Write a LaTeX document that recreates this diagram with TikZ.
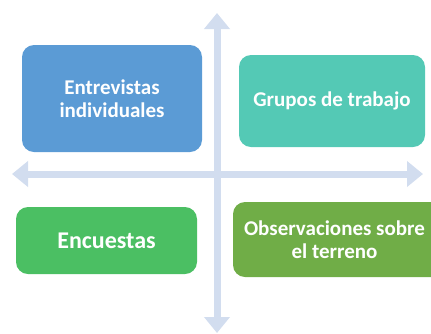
\documentclass[tikz,border=0pt]{standalone}
\usepackage{fontspec}
\setmainfont{Carlito}
\usetikzlibrary{arrows.meta}
\definecolor{cblue}{HTML}{5B9BD5}
\definecolor{cteal}{HTML}{54C9B5}
\definecolor{cgreen}{HTML}{4BBF63}
\definecolor{colive}{HTML}{70AD47}
\definecolor{caxis}{HTML}{D2DDEF}
\tikzset{
  box/.style={inner sep=0pt, text=white, align=center,
    font=\fontsize{21}{22.7}\selectfont\bfseries},
  bigbox/.style={box, font=\fontsize{24}{26}\selectfont\bfseries},
  axis/.style={draw=caxis, line width=7pt,
    -{Triangle[width=25pt,length=16pt]}},
}
\begin{document}
\begin{tikzpicture}[x=1pt,y=-1pt]
\useasboundingbox (0,0) rectangle (431,333);
\coordinate (c) at (217,174);
\coordinate (top) at (217,13);
\coordinate (bot) at (217,333);
\coordinate (lft) at (12,174);
\coordinate (rgt) at (423,174);
\draw[axis] (c) -- (top);
\draw[axis] (c) -- (bot);
\draw[axis] (c) -- (lft);
\draw[axis] (c) -- (rgt);
\fill[cblue, rounded corners=12pt] (22,45) rectangle (202,152);
\node[box] (b1) at (112,99) {Entrevistas\\individuales};
\fill[cteal, rounded corners=12pt] (239,55) rectangle (425,147);
\node[box] (b2) at (332,101) {Grupos de trabajo};
\fill[cgreen, rounded corners=12pt] (16,207) rectangle (197,274);
\node[box, bigbox] (b3) at (106.5,240.5) {Encuestas};
\fill[colive, rounded corners=12pt] (233,202) rectangle (445,277);
\node[box] (b4) at (334.5,239.5) {Observaciones sobre\\el terreno};
\end{tikzpicture}
\end{document}
